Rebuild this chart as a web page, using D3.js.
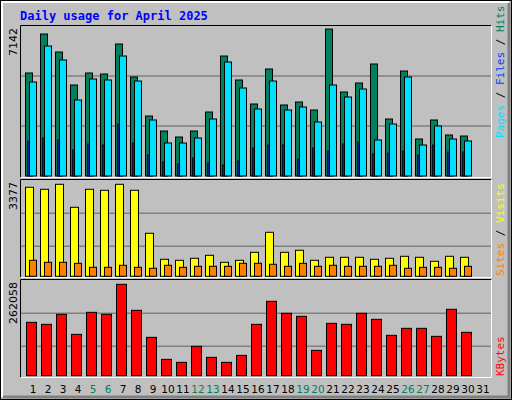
<!DOCTYPE html>
<html><head><meta charset="utf-8">
<script src="https://cdn.jsdelivr.net/npm/d3@7"></script>
<style>body{margin:0;background:#fff}</style>
</head><body>
<svg id="chart" width="512" height="400"></svg>
<script>
const days = d3.range(1, 32)
const weekends = [5, 6, 12, 13, 19, 20, 26, 27]
const hits = [5006,6901,6026,4423,5006,4957,6415,4811,2916,2187,1895,2187,3110,5832,4666,3499,5200,3451,3596,3208,7142,4082,4520,5443,2770,5103,1798,2722,1993,1944]
const files = [4568,6318,5638,3694,4714,4666,5832,4617,2722,1604,1604,1847,2770,5540,4277,3256,4617,3208,3353,2624,4423,3839,4228,1750,2527,4811,1507,2430,1798,1701]
const pages = [1701,1847,1750,1264,1555,1507,2527,1604,1021,680,583,875,632,535,729,1361,1507,1507,826,1361,1215,1555,1652,1069,1118,1215,1021,1507,1166,1166]
const sites = [3268,3194,3377,2533,3194,3157,3377,3157,1579,624,587,661,771,514,587,881,1615,881,955,587,698,698,698,624,661,734,698,551,734,698]
const visits = [587,514,514,477,330,330,404,330,294,404,330,367,367,367,477,477,441,367,477,367,404,367,367,367,404,294,330,330,294,367]
const kbytes = [153024,147280,175978,118594,181716,175978,262058,187454,109986,46864,38256,84163,52602,38256,58340,147280,213277,178847,170239,72686,150155,147280,178847,161632,115724,135809,135809,112855,190324,124332]

let svg = d3.select('#chart')
const font = 'DejaVu Sans Mono, monospace'

// frame
svg.append('rect').attr('x',0.5).attr('y',0.5).attr('width',511).attr('height',399).attr('fill','#c0c0c0').attr('stroke','#000')
svg.append('path').attr('d','M2,397V2H509').attr('fill','none').attr('stroke','#fff').attr('stroke-width',2)
svg.append('path').attr('d','M509,3V397H3').attr('fill','none').attr('stroke','#808080').attr('stroke-width',3)

svg.append('text').attr('x',20).attr('y',20).attr('fill','#0000ff').attr('font-family',font)
.attr('font-weight','bold').attr('font-size',12).text('Daily usage for April 2025')

let x = d3.scaleLinear().domain([1, 31]).range([25, 475])

// panels
let panels = [[25,178],[179,278],[279,378]]
panels.forEach(p => {
    svg.append('rect').attr('x',20.5).attr('y',p[0]+0.5).attr('width',471).attr('height',p[1]-p[0]-1).attr('fill','#c0c0c0')
    svg.append('path').attr('d',`M20.5,${p[1]-0.5}V${p[0]+0.5}H491.5`).attr('fill','none').attr('stroke','#000')
    svg.append('path').attr('d',`M491.5,${p[0]+0.5}V${p[1]-0.5}H20.5`).attr('fill','none').attr('stroke','#fff')
})

let yTop = d3.scaleLinear().domain([0, 7290]).range([176, 26])
let yMid = d3.scaleLinear().domain([0, 3377]).range([276.3, 184.3])
let yBot = d3.scaleLinear().domain([0, 262058]).range([375.7, 284.3])

function grid(y, vals){
    svg.append('g').selectAll('line').data(vals).enter().append('line')
    .attr('x1',21).attr('x2',491).attr('y1',d=>y(d)).attr('y2',d=>y(d))
    .attr('stroke','#808080').attr('stroke-width',1.5)
}
grid(yTop,[2430,4860])
grid(yMid,[1101,2313])
grid(yBot,[84300,178900])

function bars(data, y, dx, w, color, sw){
    svg.append('g').selectAll('rect').data(data).enter().append('rect')
    .attr('x',(d,i)=>x(i+1)+dx).attr('y',d=>y(d)).attr('width',w)
    .attr('height',d=>y.range()[0]-y(d)).attr('fill',color).attr('stroke','#000').attr('stroke-width',sw)
}
bars(hits, yTop, 0.5, 7, '#00805c', 1)
bars(files, yTop, 4.5, 7, '#00e0ff', 1)
bars(pages, yTop, 2.5, 1.5, '#0040ff', 0.8)
bars(sites, yMid, 0.5, 8, '#ffff00', 1)
bars(visits, yMid, 4.5, 7, '#ff8000', 1)
bars(kbytes, yBot, 1.5, 10, '#ff0000', 1)

// max labels
function maxLabel(text, yy){
    svg.append('text').attr('transform',`translate(17,${yy}) rotate(-90)`).attr('text-anchor','end')
    .attr('font-family','DejaVu Sans, sans-serif').attr('font-size',11).attr('fill','#000').text(text)
}
maxLabel(d3.max(hits), 28)
maxLabel(d3.max(sites), 182)
maxLabel(d3.max(kbytes), 282)

// right legends
function legend(parts, yy){
    let t = svg.append('text').attr('transform',`translate(504,${yy}) rotate(-90)`)
    .attr('font-family',font).attr('font-size',11)
    parts.forEach(p => t.append('tspan').attr('fill',p[1]).text(p[0]))
}
legend([['Pages','#00e0ff'],[' / ','#000'],['Files','#0040ff'],[' / ','#000'],['Hits','#00805c']], 138)
legend([['Sites','#ff8000'],[' / ','#000'],['Visits','#ffff00']], 276)
legend([['KBytes','#ff0000']], 376)

// day labels
svg.append('g').selectAll('text').data(days).enter().append('text')
.attr('x',d=>x(d)+8).attr('y',393).attr('text-anchor','middle')
.attr('font-family','DejaVu Sans, sans-serif').attr('font-size',10.5)
.attr('fill',d=>weekends.includes(d)?'#00805c':'#000').text(d=>d)
</script>
</body></html>
